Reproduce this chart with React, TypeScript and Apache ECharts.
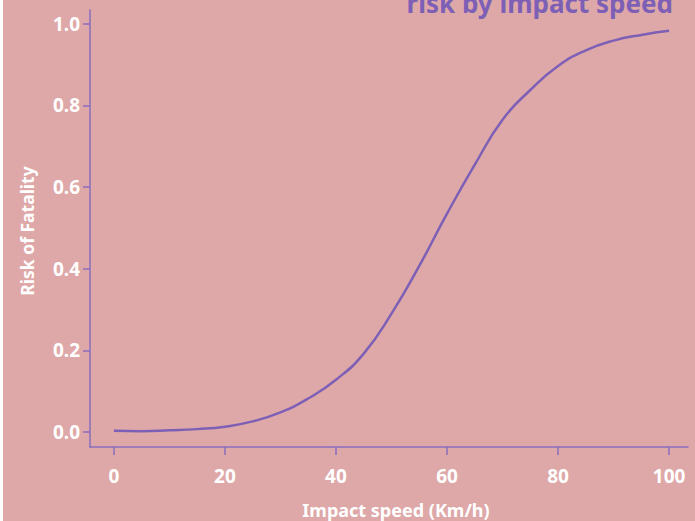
import React, { useEffect, useRef } from "react";
import * as echarts from "echarts";

const speeds = [0, 5, 10, 15, 20, 25, 30, 35, 40, 45, 50, 55, 60, 65, 70, 75, 80, 85, 90, 95, 100];
const risk = [0.003, 0.002, 0.004, 0.007, 0.013, 0.026, 0.048, 0.082, 0.128, 0.192, 0.29, 0.407, 0.535, 0.655, 0.765, 0.838, 0.897, 0.935, 0.959, 0.973, 0.983];
const xTicks = [0, 20, 40, 60, 80, 100];
const yTicks = [0, 0.2, 0.4, 0.6, 0.8, 1.0];
const titleText = "risk by impact speed";
const xName = "Impact speed (Km/h)";
const yName = "Risk of Fatality";

const FONT = "'Noto Sans', sans-serif";
const BG = "#dea8a8";
const PURPLE = "#7d60b6";
const AXIS = "#8a6cc0";

export default function App() {
  const ref = useRef<HTMLDivElement>(null);
  useEffect(() => {
    if (!ref.current) return;
    const chart = echarts.init(ref.current, null, { renderer: "svg" });
    chart.setOption({
      animation: false,
      backgroundColor: BG,
      grid: { left: 90, right: 7, top: 10, bottom: 74 },
      xAxis: {
        type: "value",
        min: -4.3,
        max: 103.4,
        axisLine: { show: true, onZero: false, lineStyle: { color: AXIS, width: 1.5 } },
        axisTick: { show: true, length: 8, lineStyle: { color: AXIS, width: 1.5 }, customValues: xTicks },
        axisLabel: {
          customValues: xTicks,
          color: "#ffffff",
          fontFamily: FONT,
          fontWeight: "bold",
          fontSize: 19,
          margin: 19,
        },
        splitLine: { show: false },
      },
      yAxis: {
        type: "value",
        min: -0.0368,
        max: 1.034,
        axisLine: { show: true, onZero: false, lineStyle: { color: AXIS, width: 1.5 } },
        axisTick: { show: true, length: 7, lineStyle: { color: AXIS, width: 1.5 }, customValues: yTicks },
        axisLabel: {
          customValues: yTicks,
          formatter: (v: number) => v.toFixed(1),
          color: "#ffffff",
          fontFamily: FONT,
          fontWeight: "bold",
          fontSize: 19,
          margin: 10,
        },
        splitLine: { show: false },
      },
      series: [
        {
          type: "line",
          data: speeds.map((s, i) => [s, risk[i]]),
          smooth: 0.5,
          showSymbol: false,
          lineStyle: { color: PURPLE, width: 2.5 },
        },
      ],
      graphic: [
        { type: "rect", left: 0, top: 0, shape: { width: 3, height: 521 }, style: { fill: "#ffffff" } },
        {
          type: "text",
          x: 673,
          y: 16,
          style: {
            text: titleText,
            fill: PURPLE,
            font: `bold 26px ${FONT}`,
            textAlign: "right",
            textVerticalAlign: "bottom",
          },
        },
        {
          type: "text",
          x: 396,
          y: 510,
          style: {
            text: xName,
            fill: "#ffffff",
            font: `bold 18px ${FONT}`,
            textAlign: "center",
            textVerticalAlign: "middle",
          },
        },
        {
          type: "text",
          x: 27,
          y: 231,
          rotation: Math.PI / 2,
          style: {
            text: yName,
            fill: "#ffffff",
            font: `bold 17.5px ${FONT}`,
            textAlign: "center",
            textVerticalAlign: "middle",
          },
        },
      ],
    });
    return () => chart.dispose();
  }, []);
  return (
    <div style={{ position: "fixed", left: 0, top: 0, width: 695, height: 521, background: "#fff" }}>
      <div ref={ref} style={{ width: 695, height: 521 }} />
    </div>
  );
}
